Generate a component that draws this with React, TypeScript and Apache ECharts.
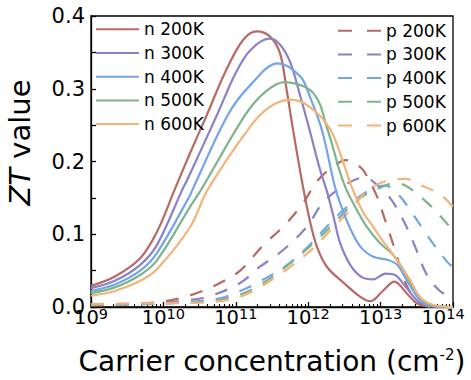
import React, { useEffect, useRef } from 'react';
import * as echarts from 'echarts';

// Carrier concentration is stored as log10(n / cm^-2); ZT is dimensionless.
const temperatures = ['200K', '300K', '400K', '500K', '600K'];
const colors = ['#B86A62', '#8882C6', '#74A5E8', '#7DB48E', '#F2B37B'];

// n-type doping
const n200K: [number, number][] = [
  [9.0, 0.029], [9.33, 0.042], [9.68, 0.067], [9.91, 0.103], [10.15, 0.16], [10.37, 0.212],
  [10.6, 0.264], [10.85, 0.322], [11.1, 0.367], [11.29, 0.379], [11.47, 0.372], [11.61, 0.349],
  [11.7, 0.3], [11.78, 0.25], [11.91, 0.175], [12.02, 0.12], [12.12, 0.083], [12.26, 0.055],
  [12.48, 0.034], [12.72, 0.014], [12.86, 0.008], [13.03, 0.022], [13.19, 0.035], [13.36, 0.019],
  [13.5, 0.005], [13.65, 0.001], [14.0, 0.0],
];
const n300K: [number, number][] = [
  [9.0, 0.026], [9.33, 0.036], [9.68, 0.058], [9.91, 0.085], [10.26, 0.161], [10.33, 0.175],
  [10.74, 0.264], [11.0, 0.322], [11.2, 0.353], [11.46, 0.369], [11.6, 0.362], [11.75, 0.337],
  [11.89, 0.29], [12.02, 0.243], [12.16, 0.19], [12.27, 0.155], [12.36, 0.12], [12.44, 0.088],
  [12.58, 0.058], [12.74, 0.041], [12.9, 0.038], [13.07, 0.046], [13.2, 0.044], [13.36, 0.026],
  [13.54, 0.006], [13.75, 0.001], [14.0, 0.0],
];
const n400K: [number, number][] = [
  [9.0, 0.022], [9.33, 0.031], [9.68, 0.05], [9.91, 0.074], [10.37, 0.154], [10.4, 0.161],
  [10.89, 0.264], [11.2, 0.305], [11.58, 0.335], [11.89, 0.317], [12.02, 0.29], [12.19, 0.243],
  [12.37, 0.165], [12.47, 0.135], [12.58, 0.108], [12.72, 0.083], [12.9, 0.069], [13.09, 0.065],
  [13.23, 0.058], [13.36, 0.037], [13.54, 0.01], [13.71, 0.001], [14.0, 0.0],
];
const n500K: [number, number][] = [
  [9.0, 0.019], [9.33, 0.027], [9.68, 0.044], [9.91, 0.064], [10.37, 0.138], [10.52, 0.161],
  [11.13, 0.264], [11.4, 0.295], [11.67, 0.309], [12.07, 0.294], [12.27, 0.243], [12.44, 0.185],
  [12.52, 0.163], [12.62, 0.143], [12.81, 0.11], [12.99, 0.088], [13.17, 0.072], [13.31, 0.052],
  [13.5, 0.019], [13.68, 0.003], [14.0, 0.0],
];
const n600K: [number, number][] = [
  [9.0, 0.0155], [9.33, 0.022], [9.68, 0.036], [9.91, 0.052], [10.37, 0.11], [10.61, 0.161],
  [11.2, 0.248], [11.47, 0.275], [11.76, 0.285], [12.02, 0.275], [12.3, 0.245], [12.48, 0.2],
  [12.6, 0.165], [12.76, 0.13], [12.9, 0.11], [13.02, 0.092], [13.13, 0.078], [13.24, 0.062],
  [13.41, 0.037], [13.54, 0.014], [13.72, 0.003], [14.0, 0.0],
];

// p-type doping
const p200K: [number, number][] = [
  [9.0, 0.002], [9.54, 0.004], [9.95, 0.007], [10.23, 0.012], [10.51, 0.021], [10.78, 0.033],
  [11.06, 0.05], [11.38, 0.085], [11.65, 0.11], [11.91, 0.14], [12.14, 0.175], [12.4, 0.197],
  [12.52, 0.202], [12.65, 0.197], [12.76, 0.188], [12.95, 0.152], [13.06, 0.12], [13.2, 0.078],
  [13.3, 0.045], [13.41, 0.02], [13.54, 0.005], [13.7, 0.0], [14.0, 0.0],
];
const p300K: [number, number][] = [
  [9.0, 0.003], [9.68, 0.005], [10.23, 0.008], [10.64, 0.015], [11.06, 0.033], [11.33, 0.055],
  [11.65, 0.078], [11.98, 0.11], [12.2, 0.143], [12.51, 0.168], [12.78, 0.178], [12.95, 0.168],
  [13.13, 0.15], [13.31, 0.12], [13.46, 0.087], [13.64, 0.044], [13.82, 0.022], [14.0, 0.012],
];
const p400K: [number, number][] = [
  [9.0, 0.003], [9.68, 0.004], [10.23, 0.006], [10.78, 0.012], [11.06, 0.022], [11.33, 0.035],
  [11.71, 0.058], [12.02, 0.085], [12.3, 0.115], [12.54, 0.138], [12.85, 0.161], [13.06, 0.167],
  [13.24, 0.155], [13.41, 0.133], [13.64, 0.099], [13.92, 0.062], [14.0, 0.055],
];
const p500K: [number, number][] = [
  [9.0, 0.003], [9.68, 0.004], [10.51, 0.007], [10.78, 0.01], [11.06, 0.017], [11.33, 0.03],
  [11.75, 0.06], [12.12, 0.092], [12.4, 0.12], [12.72, 0.15], [13.09, 0.168], [13.2, 0.17],
  [13.36, 0.166], [13.68, 0.14], [13.96, 0.11], [14.0, 0.106],
];
const p600K: [number, number][] = [
  [9.0, 0.004], [9.68, 0.005], [10.51, 0.006], [10.78, 0.008], [11.06, 0.014], [11.33, 0.027],
  [11.75, 0.055], [12.07, 0.081], [12.34, 0.109], [12.58, 0.133], [12.85, 0.163], [13.17, 0.175],
  [13.34, 0.176], [13.54, 0.168], [13.82, 0.155], [14.0, 0.138],
];

const nData = [n200K, n300K, n400K, n500K, n600K];
const pData = [p200K, p300K, p400K, p500K, p600K];

// Axis ranges (x in decades)
const xDecades = [9, 10, 11, 12, 13, 14];
const yTicks = [0, 0.1, 0.2, 0.3, 0.4];

const FONT = "'DejaVu Sans', sans-serif";
const BLACK = '#000';

// Minor tick positions of a log axis: log10(k) inside every decade
const minorTicks: number[] = [];
for (let d = xDecades[0]; d < xDecades[xDecades.length - 1]; d++) {
  for (let k = 2; k <= 9; k++) minorTicks.push(d + Math.log10(k));
}

export default function App() {
  const ref = useRef<HTMLDivElement>(null);

  useEffect(() => {
    if (!ref.current) return;
    const chart = echarts.init(ref.current, null, { renderer: 'svg' });

    const nNames = temperatures.map((t) => `n ${t}`);
    const pNames = temperatures.map((t) => `p ${t}`);

    const common = {
      type: 'line',
      smooth: 0.35,
      symbol: 'none',
      xAxisIndex: 0,
      yAxisIndex: 0,
    };

    const pSeries = pData.map((d, i) => ({
      ...common,
      name: pNames[i],
      data: d,
      lineStyle: { color: colors[i], width: 2.2, type: [13, 12] },
      itemStyle: { color: colors[i] },
      z: 2,
    }));
    const nSeries = nData.map((d, i) => ({
      ...common,
      name: nNames[i],
      data: d,
      lineStyle: { color: colors[i], width: 2.2 },
      itemStyle: { color: colors[i] },
      z: 3,
    }));

    const legendBase = {
      orient: 'vertical',
      padding: 0,
      itemWidth: 43,
      itemHeight: 14,
      itemGap: 3.7,
      selectedMode: false,
      itemStyle: { opacity: 0 },
      textStyle: { fontSize: 17, fontFamily: FONT, color: BLACK, lineHeight: 20 },
    };

    const lastDecade = xDecades[xDecades.length - 1];

    chart.setOption({
      animation: false,
      backgroundColor: '#fff',
      grid: {
        left: 91,
        right: 18,
        top: 16,
        bottom: 73,
        outerBoundsMode: 'none',
        containLabel: false,
        show: true,
        borderColor: BLACK,
        borderWidth: 1.3,
        backgroundColor: 'transparent',
      },
      legend: [
        { ...legendBase, data: nNames, left: 95, top: 19.3 },
        { ...legendBase, data: pNames, left: 337, top: 20.7, lineStyle: { type: [14, 15] } },
      ],
      xAxis: [
        {
          type: 'value',
          min: xDecades[0],
          max: lastDecade,
          interval: 1,
          name: 'Carrier concentration (cm{s|-2})',
          nameLocation: 'middle',
          nameGap: 40,
          nameTextStyle: {
            fontSize: 28,
            fontFamily: FONT,
            color: BLACK,
            lineHeight: 28,
            rich: {
              s: { fontSize: 15, lineHeight: 10, verticalAlign: 'top', fontFamily: FONT, color: BLACK },
            },
          },
          axisLine: { show: true, lineStyle: { color: BLACK, width: 1.3 } },
          axisTick: { show: true, inside: true, length: 5, lineStyle: { color: BLACK, width: 1.3 } },
          splitLine: { show: false },
          axisLabel: {
            margin: -1,
            // the last label is pulled inward so that it stays inside the frame
            formatter: (v: number) => (v === lastDecade ? `{b|10}{e|${v}}` : `{b|10}{s|${v}}`),
            rich: {
              b: { fontSize: 19.5, lineHeight: 22, fontFamily: FONT, color: BLACK },
              s: { fontSize: 14.5, lineHeight: 12, verticalAlign: 'top', fontFamily: FONT, color: BLACK },
              e: {
                fontSize: 14.5,
                lineHeight: 12,
                verticalAlign: 'top',
                fontFamily: FONT,
                color: BLACK,
                padding: [0, 20, 0, 0],
              },
            },
          },
        },
        {
          type: 'value',
          min: xDecades[0],
          max: lastDecade,
          position: 'bottom',
          axisLine: { show: false },
          axisLabel: { show: false },
          splitLine: { show: false },
          axisTick: {
            show: true,
            inside: true,
            length: 3,
            customValues: minorTicks,
            lineStyle: { color: BLACK, width: 1.1 },
          },
        },
      ],
      yAxis: {
        type: 'value',
        min: yTicks[0],
        max: yTicks[yTicks.length - 1],
        interval: 0.1,
        name: '{i|ZT} value',
        nameLocation: 'middle',
        nameGap: 57,
        nameTextStyle: {
          fontSize: 29,
          fontFamily: FONT,
          color: BLACK,
          padding: [0, 0, 0, 38],
          rich: {
            i: { fontSize: 29, fontStyle: 'italic', fontFamily: FONT, color: BLACK },
          },
        },
        axisLine: { show: true, lineStyle: { color: BLACK, width: 1.3 } },
        axisTick: { show: true, inside: true, length: 5, lineStyle: { color: BLACK, width: 1.3 } },
        minorTick: { show: true, splitNumber: 2, length: 5, lineStyle: { color: BLACK, width: 1.3 } },
        splitLine: { show: false },
        axisLabel: {
          margin: 6,
          fontSize: 21,
          lineHeight: 14,
          fontFamily: FONT,
          color: BLACK,
          formatter: (v: number) => v.toFixed(1),
        },
      },
      series: [...pSeries, ...nSeries],
    });

    return () => chart.dispose();
  }, []);

  return (
    <div
      ref={ref}
      style={{ position: 'fixed', left: 0, top: 0, width: 471, height: 380, background: '#fff' }}
    />
  );
}
